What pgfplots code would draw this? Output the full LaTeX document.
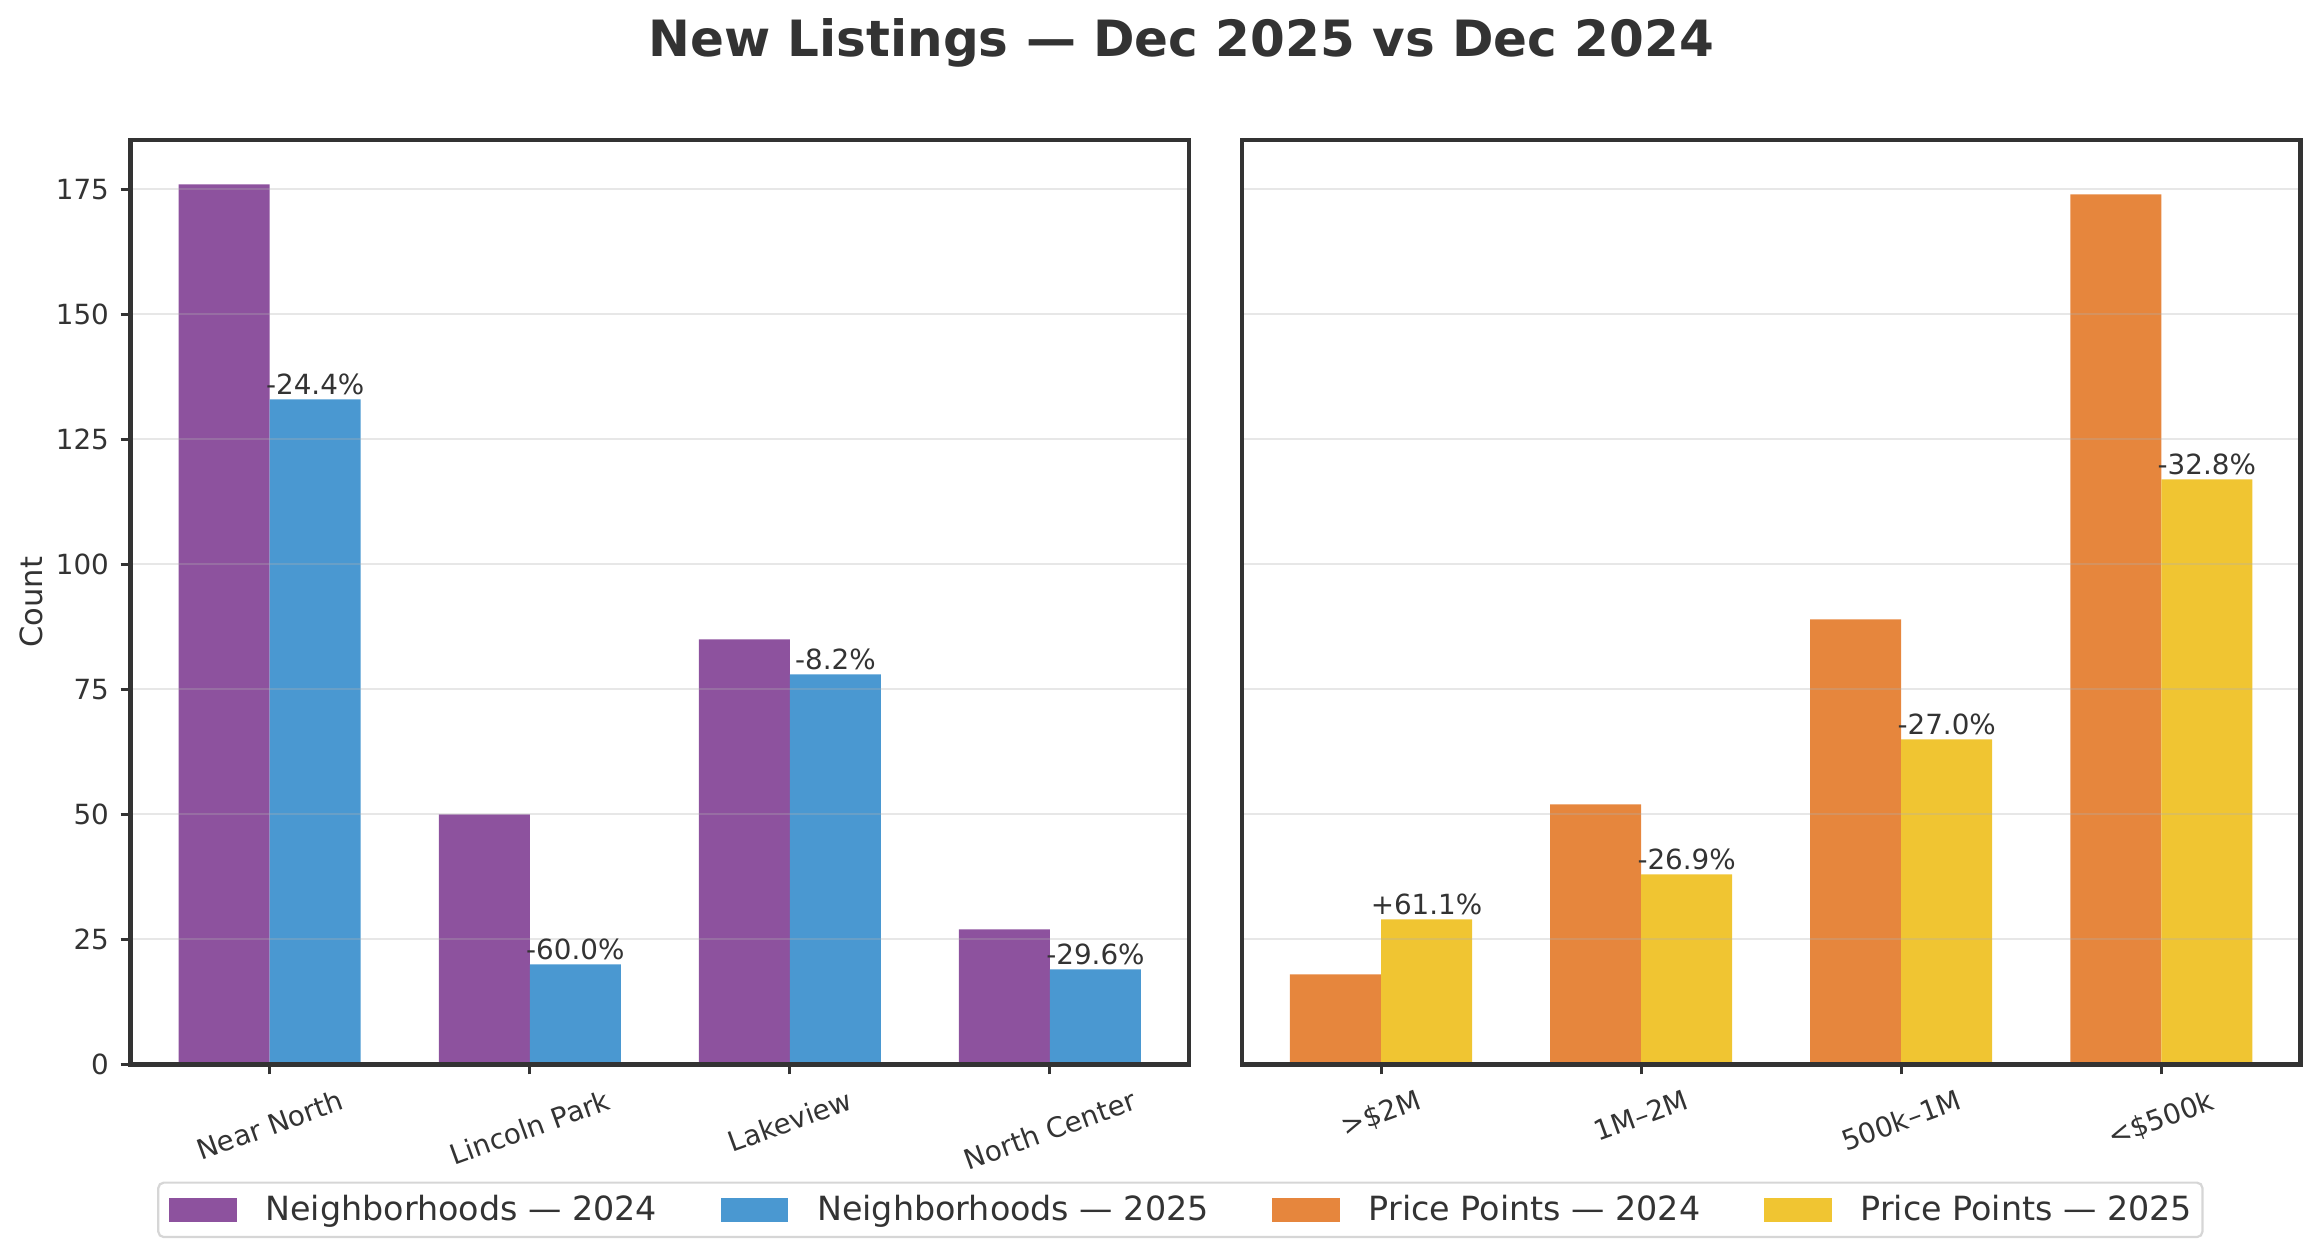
\documentclass[border=0pt]{standalone}
\usepackage{fontspec}
\setmainfont{DejaVu Sans}
\usepackage{pgfplots}
\usepackage{pgfplotstable}
\pgfplotsset{compat=1.18}

\definecolor{txt}{HTML}{333333}
\definecolor{nb24}{HTML}{8D529E}
\definecolor{nb25}{HTML}{4A98D1}
\definecolor{pp24}{HTML}{E6863D}
\definecolor{pp25}{HTML}{F0C532}
\definecolor{legframe}{HTML}{D6D6D6}

% neighborhoods: 2024, 2025, change label
\pgfplotstableread{
x  y24  y25  lab
0  176  133  -24.4\%
1  50   20   -60.0\%
2  85   78   -8.2\%
3  27   19   -29.6\%
}\nbhd

% price points
\pgfplotstableread{
x  y24  y25  lab
0  18   29   +61.1\%
1  52   38   -26.9\%
2  89   65   -27.0\%
3  174  117  -32.8\%
}\price

\pgfplotsset{
  panel/.style={
    scale only axis,
    width=381.1pt, height=332.7pt,
    xmin=-0.535, xmax=3.535,
    ymin=0, ymax=184.8,
    ybar, bar width=0.35,
    axis on top,
    axis line style={line width=1.55pt, color=txt},
    tick align=outside,
    tick pos=left,
    major tick length=3.6pt,
    major tick style={line width=1.1pt, color=txt},
    xtick={0,1,2,3},
    ymajorgrids,
    major grid style={color=black!31, opacity=0.3, line width=0.7pt},
    ticklabel style={font=\fontsize{10}{12}\selectfont, color=txt},
    /pgf/number format/assume math mode=true,
    yticklabel style={inner xsep=4pt},
    xticklabel style={inner sep=0pt, yshift=-5pt},
    nodes near coords style={font=\fontsize{10}{12}\selectfont, color=txt,
      anchor=south, inner sep=0pt, yshift=1.5pt},
    legend image code/.code={\fill[##1, sharp corners] (0pt,-4.3pt) rectangle (24.4pt,4.3pt);},
  },
}

\begin{document}
\begin{tikzpicture}
\path[use as bounding box] (-47pt,-70.4pt) rectangle (788.6pt,383.2pt);

\node[anchor=base, font=\fontsize{18}{22}\selectfont\bfseries, text=txt]
  at (378.2pt,362.7pt) {New Listings — Dec 2025 vs Dec 2024};

\begin{axis}[panel,
    at={(0pt,0pt)}, anchor=south west,
    ytick={0,25,50,75,100,125,150,175},
    xticklabels={\rotatebox{20}{Near North},\rotatebox{20}{Lincoln Park},
                 \rotatebox{20}{Lakeview},\rotatebox{20}{North Center}},
    ylabel={Count},
    every axis y label/.style={at={(axis description cs:-0.094,0.5)},
      anchor=center, rotate=90, font=\fontsize{11}{13}\selectfont, text=txt},
]
\addplot[fill=nb24, draw=none, bar shift=-0.175] table[x=x, y=y24] {\nbhd};
\addplot[fill=nb25, draw=none, bar shift=0.175,
  nodes near coords, point meta=explicit symbolic]
  table[x=x, y=y25, meta=lab] {\nbhd};
\end{axis}

\begin{axis}[panel,
    at={(400.1pt,0pt)}, anchor=south west,
    ytick={0,25,50,75,100,125,150,175},
    yticklabels={},
    ytick style={draw=none},
    xticklabels={\rotatebox{20}{>\$2M},\rotatebox{20}{1M–2M},
                 \rotatebox{20}{500k–1M},\rotatebox{20}{<\$500k}},
    legend columns=4,
    legend cell align=left,
    legend style={at={(axis description cs:-0.0581,-0.1574)}, anchor=center,
      draw=legframe, line width=0.8pt, rounded corners=2pt,
      font=\fontsize{12}{14}\selectfont, text=txt,
      inner xsep=3.8pt, inner ysep=4.5pt,
      nodes={inner sep=0pt},
      /tikz/every odd column/.append style={column sep=10.4pt},
      /tikz/every even column/.append style={column sep=22.9pt}},
]
\addlegendimage{fill=nb24, draw=none}
\addlegendimage{fill=nb25, draw=none}
\addplot[fill=pp24, draw=none, bar shift=-0.175] table[x=x, y=y24] {\price};
\addplot[fill=pp25, draw=none, bar shift=0.175,
  nodes near coords, point meta=explicit symbolic]
  table[x=x, y=y25, meta=lab] {\price};
\legend{Neighborhoods — 2024, Neighborhoods — 2025, Price Points — 2024, Price Points — 2025}
\end{axis}
\end{tikzpicture}
\end{document}
